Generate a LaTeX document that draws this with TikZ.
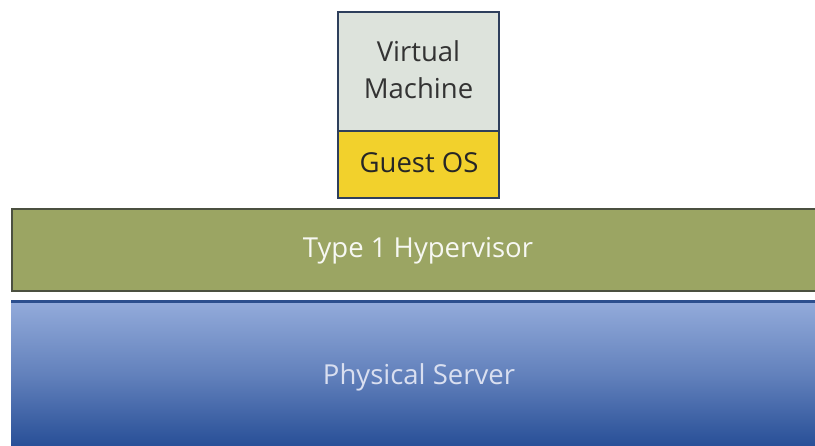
\documentclass[tikz,border=0pt]{standalone}
\usepackage{fontspec}
\setmainfont{Open Sans}
\begin{document}
\begin{tikzpicture}[x=1pt,y=-1pt,
  lbl/.style={font=\fontsize{27.5}{37}\selectfont, align=center},
  ]
\definecolor{vmfill}{HTML}{DDE3DC}
\definecolor{guest}{HTML}{F2D12C}
\definecolor{navy}{HTML}{2E3F5C}
\definecolor{olive}{HTML}{9BA563}
\definecolor{olivedk}{HTML}{4B5040}
\definecolor{srvtop}{HTML}{92AADA}
\definecolor{srvbot}{HTML}{284F97}
\definecolor{srvline}{HTML}{2C4F8E}
\definecolor{srvtext}{HTML}{D9DFF0}
\fill[white] (0,0) rectangle (815,446);
\useasboundingbox (0,0) rectangle (815,446);
% physical server
\shade[top color=srvtop, bottom color=srvbot, middle color=srvtop!55!srvbot] (11,303) rectangle (815,446);
\draw[srvline, line width=3pt] (11,302) -- (815,302);
\node[lbl, text=srvtext] (srv) at (419,377) {Physical Server};
% hypervisor
\draw[olivedk, line width=2pt, fill=olive] (12,209) rectangle (818,291);
\node[lbl, text=white!92!olive] (hyp) at (418,251) {Type 1 Hypervisor};
% VM
\draw[navy, line width=2pt, fill=vmfill] (338,12) rectangle (499,131);
\draw[navy, line width=2pt, fill=guest] (338,131) rectangle (499,198);
\node[lbl, text=black!80] (vm) at (418.5,70) {Virtual\\Machine};
\node[lbl, text=black!85] (gos) at (419,163) {Guest OS};
\end{tikzpicture}
\end{document}
